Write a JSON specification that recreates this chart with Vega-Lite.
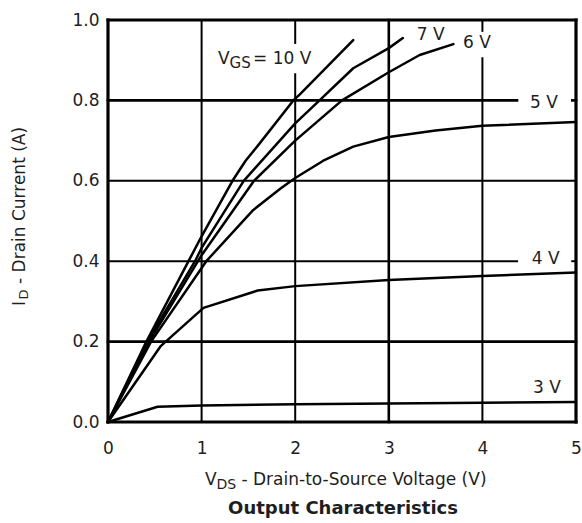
{
  "$schema": "https://vega.github.io/schema/vega-lite/v6.json",
  "width": 468,
  "height": 402,
  "autosize": {"type": "none"},
  "padding": {"left": 108, "top": 20, "right": 6, "bottom": 101},
  "background": "white",
  "config": {
    "view": {"stroke": null},
    "font": "DejaVu Sans",
    "text": {"font": "DejaVu Sans", "color": "#1e1e1e", "fontSize": 17, "align": "left", "baseline": "alphabetic"}
  },
  "resolve": {"axis": {"x": "independent", "y": "independent"}},
  "datasets": {
    "grid": [
      {"x": 0, "x2": 0, "y": 0, "y2": 1, "k": "frame"},
      {"x": 5, "x2": 5, "y": 0, "y2": 1, "k": "frame"},
      {"x": 0, "x2": 5, "y": 0, "y2": 0, "k": "frame"},
      {"x": 0, "x2": 5, "y": 1, "y2": 1, "k": "frame"},
      {"x": 1, "x2": 1, "y": 0, "y2": 1, "k": "thin"},
      {"x": 2, "x2": 2, "y": 0, "y2": 0.865, "k": "thin"},
      {"x": 2, "x2": 2, "y": 0.943, "y2": 1, "k": "thin"},
      {"x": 3, "x2": 3, "y": 0, "y2": 1, "k": "thick"},
      {"x": 4, "x2": 4, "y": 0, "y2": 0.905, "k": "thin"},
      {"x": 4, "x2": 4, "y": 0.973, "y2": 1, "k": "thin"},
      {"x": 0, "x2": 5, "y": 0.2, "y2": 0.2, "k": "thick"},
      {"x": 0, "x2": 4.37, "y": 0.4, "y2": 0.4, "k": "thin"},
      {"x": 4.96, "x2": 5, "y": 0.4, "y2": 0.4, "k": "thin"},
      {"x": 0, "x2": 5, "y": 0.6, "y2": 0.6, "k": "thin"},
      {"x": 0, "x2": 4.37, "y": 0.8, "y2": 0.8, "k": "thick"},
      {"x": 4.96, "x2": 5, "y": 0.8, "y2": 0.8, "k": "thick"}
    ],
    "curves": [
      {"vgs": "3 V", "V": 0, "I": 0},
      {"vgs": "3 V", "V": 0.53, "I": 0.038},
      {"vgs": "3 V", "V": 1, "I": 0.041},
      {"vgs": "3 V", "V": 2, "I": 0.044},
      {"vgs": "3 V", "V": 3, "I": 0.046},
      {"vgs": "3 V", "V": 4, "I": 0.048},
      {"vgs": "3 V", "V": 5, "I": 0.05},
      {"vgs": "4 V", "V": 0, "I": 0},
      {"vgs": "4 V", "V": 0.56, "I": 0.188},
      {"vgs": "4 V", "V": 1.02, "I": 0.284},
      {"vgs": "4 V", "V": 1.6, "I": 0.327},
      {"vgs": "4 V", "V": 2, "I": 0.338},
      {"vgs": "4 V", "V": 3, "I": 0.353},
      {"vgs": "4 V", "V": 4, "I": 0.363},
      {"vgs": "4 V", "V": 5, "I": 0.372},
      {"vgs": "5 V", "V": 0, "I": 0},
      {"vgs": "5 V", "V": 0.46, "I": 0.2},
      {"vgs": "5 V", "V": 1.05, "I": 0.4},
      {"vgs": "5 V", "V": 1.55, "I": 0.527},
      {"vgs": "5 V", "V": 1.84, "I": 0.58},
      {"vgs": "5 V", "V": 2.0, "I": 0.607},
      {"vgs": "5 V", "V": 2.3, "I": 0.65},
      {"vgs": "5 V", "V": 2.62, "I": 0.685},
      {"vgs": "5 V", "V": 3.0, "I": 0.709},
      {"vgs": "5 V", "V": 3.5, "I": 0.725},
      {"vgs": "5 V", "V": 4.0, "I": 0.737},
      {"vgs": "5 V", "V": 5.0, "I": 0.746},
      {"vgs": "6 V", "V": 0, "I": 0},
      {"vgs": "6 V", "V": 0.44, "I": 0.2},
      {"vgs": "6 V", "V": 1.0, "I": 0.415},
      {"vgs": "6 V", "V": 1.56, "I": 0.6},
      {"vgs": "6 V", "V": 2.0, "I": 0.7},
      {"vgs": "6 V", "V": 2.5, "I": 0.8},
      {"vgs": "6 V", "V": 3.0, "I": 0.87},
      {"vgs": "6 V", "V": 3.33, "I": 0.913},
      {"vgs": "6 V", "V": 3.69, "I": 0.94},
      {"vgs": "7 V", "V": 0, "I": 0},
      {"vgs": "7 V", "V": 0.42, "I": 0.2},
      {"vgs": "7 V", "V": 0.93, "I": 0.4},
      {"vgs": "7 V", "V": 1.0, "I": 0.433},
      {"vgs": "7 V", "V": 1.45, "I": 0.6},
      {"vgs": "7 V", "V": 2.0, "I": 0.743},
      {"vgs": "7 V", "V": 2.26, "I": 0.8},
      {"vgs": "7 V", "V": 2.62, "I": 0.88},
      {"vgs": "7 V", "V": 3.0, "I": 0.93},
      {"vgs": "7 V", "V": 3.15, "I": 0.955},
      {"vgs": "10 V", "V": 0, "I": 0},
      {"vgs": "10 V", "V": 0.41, "I": 0.2},
      {"vgs": "10 V", "V": 0.86, "I": 0.4},
      {"vgs": "10 V", "V": 1.0, "I": 0.462},
      {"vgs": "10 V", "V": 1.33, "I": 0.6},
      {"vgs": "10 V", "V": 1.47, "I": 0.65},
      {"vgs": "10 V", "V": 1.61, "I": 0.69},
      {"vgs": "10 V", "V": 1.98, "I": 0.8},
      {"vgs": "10 V", "V": 2.05, "I": 0.815},
      {"vgs": "10 V", "V": 2.62, "I": 0.95}
    ],
    "labels": [
      {"t": "7 V", "V": 3.298, "I": 0.95},
      {"t": "6 V", "V": 3.793, "I": 0.93},
      {"t": "5 V", "V": 4.509, "I": 0.782},
      {"t": "4 V", "V": 4.527, "I": 0.393},
      {"t": "3 V", "V": 4.54, "I": 0.073}
    ],
    "anchor": [{}]
  },
  "layer": [
    {
      "data": {"name": "grid"},
      "mark": {"type": "rule", "color": "#000", "strokeCap": "square"},
      "encoding": {
        "x": {
          "field": "x", "type": "quantitative",
          "scale": {"domain": [0, 5], "nice": false, "zero": false},
          "axis": {"values": [0, 1, 2, 3, 4, 5], "format": "d", "title": null, "grid": false, "ticks": false, "domain": false,
                   "labelFont": "DejaVu Sans", "labelFontSize": 17, "labelPadding": 18, "labelColor": "#1e1e1e", "labelFlush": false, "labelOverlap": false}
        },
        "x2": {"field": "x2"},
        "y": {
          "field": "y", "type": "quantitative",
          "scale": {"domain": [0, 1], "nice": false, "zero": false},
          "axis": {"values": [0, 0.2, 0.4, 0.6, 0.8, 1.0], "format": ".1f", "title": null, "grid": false, "ticks": false, "domain": false,
                   "labelFont": "DejaVu Sans", "labelFontSize": 17, "labelPadding": 9, "labelColor": "#1e1e1e", "labelFlush": false, "labelOverlap": false}
        },
        "y2": {"field": "y2"},
        "strokeWidth": {"field": "k", "type": "nominal", "scale": {"domain": ["thin", "thick", "frame"], "range": [2, 3.2, 2.5]}, "legend": null}
      }
    },
    {
      "data": {"name": "curves"},
      "mark": {"type": "line", "color": "#000", "strokeWidth": 2.5, "strokeJoin": "round", "strokeCap": "round"},
      "encoding": {
        "x": {"field": "V", "type": "quantitative", "scale": {"domain": [0, 5]}, "axis": null},
        "y": {"field": "I", "type": "quantitative", "scale": {"domain": [0, 1]}, "axis": null},
        "detail": {"field": "vgs", "type": "nominal"}
      }
    },
    {
      "data": {"name": "labels"},
      "mark": {"type": "text", "fontSize": 17},
      "encoding": {
        "x": {"field": "V", "type": "quantitative", "scale": {"domain": [0, 5]}, "axis": null},
        "y": {"field": "I", "type": "quantitative", "scale": {"domain": [0, 1]}, "axis": null},
        "text": {"field": "t"}
      }
    },
    {
      "data": {"name": "anchor"},
      "mark": {"type": "text", "text": "V", "fontSize": 17},
      "encoding": {"x": {"datum": 1.175, "type": "quantitative", "scale": {"domain": [0, 5]}, "axis": null}, "y": {"datum": 0.891, "type": "quantitative", "scale": {"domain": [0, 1]}, "axis": null}}
    },
    {
      "data": {"name": "anchor"},
      "mark": {"type": "text", "text": "GS", "fontSize": 15, "dx": 11.6, "dy": 4},
      "encoding": {"x": {"datum": 1.175, "type": "quantitative", "scale": {"domain": [0, 5]}, "axis": null}, "y": {"datum": 0.891, "type": "quantitative", "scale": {"domain": [0, 1]}, "axis": null}}
    },
    {
      "data": {"name": "anchor"},
      "mark": {"type": "text", "text": "= 10 V", "fontSize": 17, "dx": 35},
      "encoding": {"x": {"datum": 1.175, "type": "quantitative", "scale": {"domain": [0, 5]}, "axis": null}, "y": {"datum": 0.891, "type": "quantitative", "scale": {"domain": [0, 1]}, "axis": null}}
    },
    {
      "data": {"name": "anchor"},
      "mark": {"type": "text", "text": "V", "fontSize": 17},
      "encoding": {"x": {"datum": 1.036, "type": "quantitative", "scale": {"domain": [0, 5]}, "axis": null}, "y": {"datum": -0.157, "type": "quantitative", "scale": {"domain": [0, 1]}, "axis": null}}
    },
    {
      "data": {"name": "anchor"},
      "mark": {"type": "text", "text": "DS", "fontSize": 14, "dx": 11.6, "dy": 4},
      "encoding": {"x": {"datum": 1.036, "type": "quantitative", "scale": {"domain": [0, 5]}, "axis": null}, "y": {"datum": -0.157, "type": "quantitative", "scale": {"domain": [0, 1]}, "axis": null}}
    },
    {
      "data": {"name": "anchor"},
      "mark": {"type": "text", "text": "- Drain-to-Source Voltage (V)", "fontSize": 17, "dx": 36.5},
      "encoding": {"x": {"datum": 1.036, "type": "quantitative", "scale": {"domain": [0, 5]}, "axis": null}, "y": {"datum": -0.157, "type": "quantitative", "scale": {"domain": [0, 1]}, "axis": null}}
    },
    {
      "data": {"name": "anchor"},
      "mark": {"type": "text", "text": "I", "fontSize": 17, "angle": 270},
      "encoding": {"x": {"datum": -0.887, "type": "quantitative", "scale": {"domain": [0, 5]}, "axis": null}, "y": {"datum": 0.2886, "type": "quantitative", "scale": {"domain": [0, 1]}, "axis": null}}
    },
    {
      "data": {"name": "anchor"},
      "mark": {"type": "text", "text": "D", "fontSize": 13, "angle": 270, "dx": 6.5, "dy": 3},
      "encoding": {"x": {"datum": -0.887, "type": "quantitative", "scale": {"domain": [0, 5]}, "axis": null}, "y": {"datum": 0.2886, "type": "quantitative", "scale": {"domain": [0, 1]}, "axis": null}}
    },
    {
      "data": {"name": "anchor"},
      "mark": {"type": "text", "text": "- Drain Current (A)", "fontSize": 17, "angle": 270, "dx": 22},
      "encoding": {"x": {"datum": -0.887, "type": "quantitative", "scale": {"domain": [0, 5]}, "axis": null}, "y": {"datum": 0.2886, "type": "quantitative", "scale": {"domain": [0, 1]}, "axis": null}}
    },
    {
      "data": {"name": "anchor"},
      "mark": {"type": "text", "text": "Output Characteristics", "fontSize": 18, "fontWeight": "bold", "align": "center"},
      "encoding": {"x": {"datum": 2.511, "type": "quantitative", "scale": {"domain": [0, 5]}, "axis": null}, "y": {"datum": -0.229, "type": "quantitative", "scale": {"domain": [0, 1]}, "axis": null}}
    }
  ]
}
